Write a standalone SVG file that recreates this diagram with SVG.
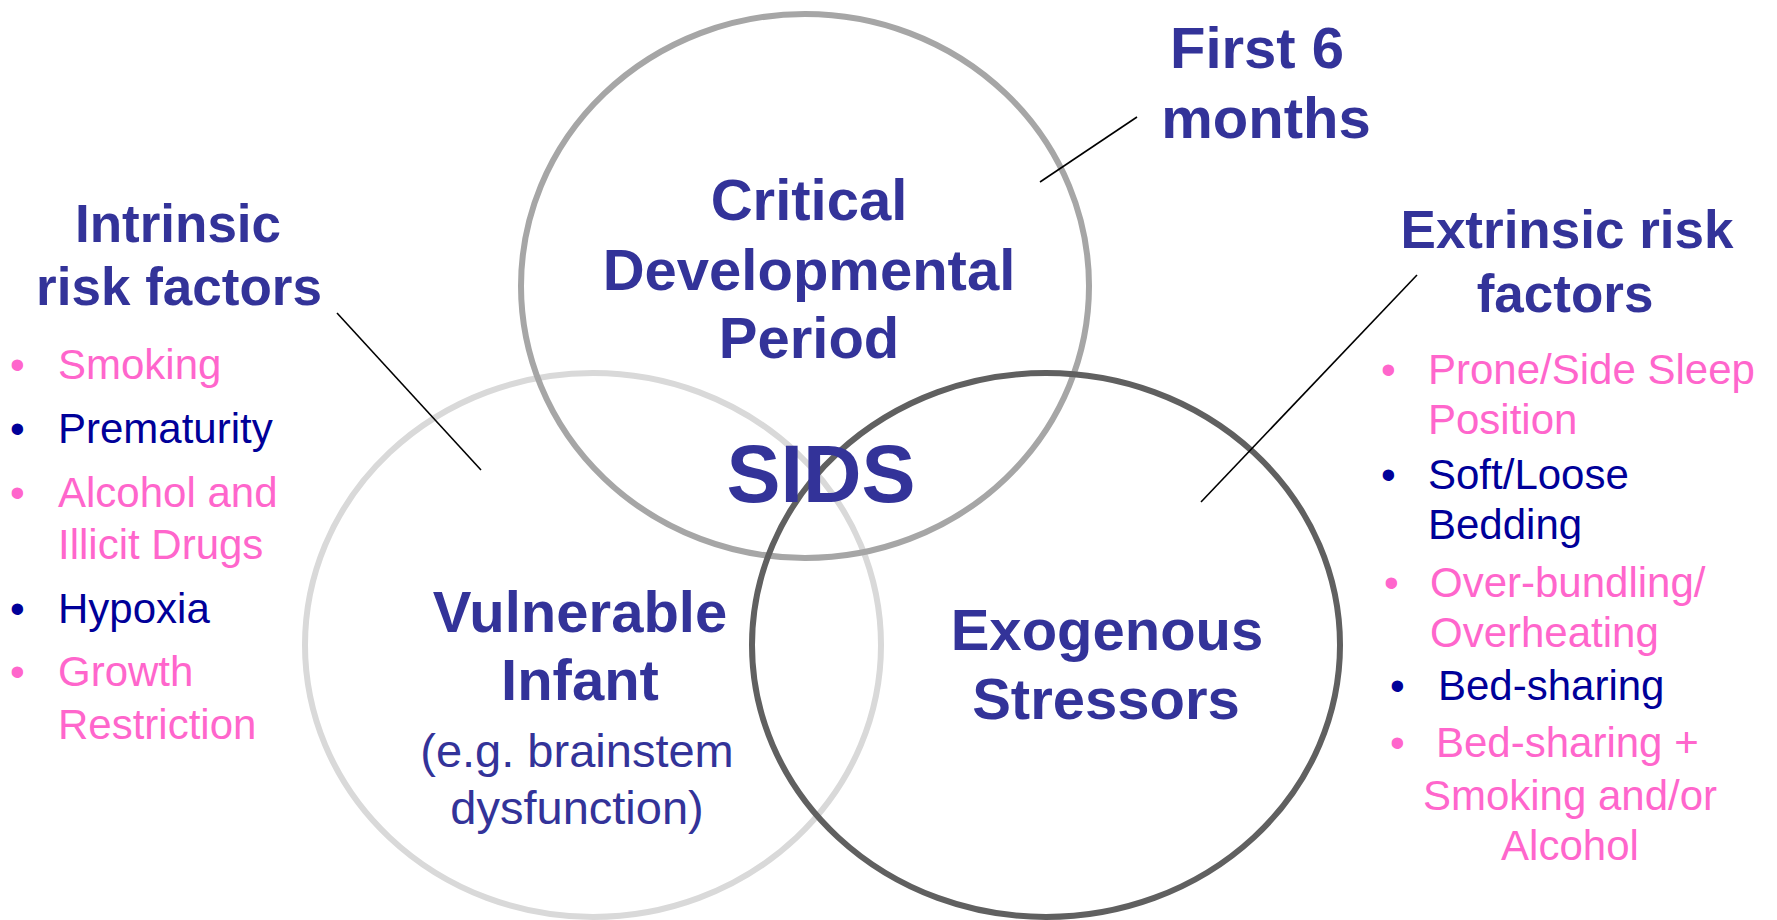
<svg xmlns="http://www.w3.org/2000/svg" width="1777" height="920" viewBox="0 0 1777 920">
  <style>
    text { font-family: "Liberation Sans", Arial, sans-serif; }
    .ring { fill: none; stroke-width: 6; }
    .title { fill: #333399; font-weight: bold; font-size: 58px; text-anchor: middle; }
    .head { fill: #333399; font-weight: bold; font-size: 53px; text-anchor: middle; }
    .sub { fill: #333399; font-size: 47px; text-anchor: middle; }
    .pink { fill: #ff66cc; font-size: 42px; }
    .navy { fill: #000099; font-size: 42px; }
    .conn { stroke: #000000; stroke-width: 1.6; fill: none; }
  </style>
  <rect width="1777" height="920" fill="#ffffff"/>

  <g id="vulnerable-infant">
    <ellipse class="ring" cx="593" cy="645" rx="288" ry="272" stroke="#d9d9d9"/>
    <text class="title" x="580" y="632">Vulnerable</text>
    <text class="title" x="580" y="700">Infant</text>
    <text class="sub" x="577" y="767">(e.g. brainstem</text>
    <text class="sub" x="577" y="824">dysfunction)</text>
  </g>

  <g id="critical-period">
    <ellipse class="ring" cx="805" cy="286" rx="284" ry="272" stroke="#a6a6a6"/>
    <text class="title" x="809" y="220">Critical</text>
    <text class="title" x="809" y="290">Developmental</text>
    <text class="title" x="809" y="358">Period</text>
  </g>

  <g id="exogenous-stressors">
    <ellipse class="ring" cx="1046" cy="645" rx="294" ry="272" stroke="#606060"/>
    <text class="title" x="1107" y="650">Exogenous</text>
    <text class="title" x="1106" y="719">Stressors</text>
  </g>

  <g id="sids">
    <text x="821" y="502" fill="#333399" font-weight="bold" font-size="81" text-anchor="middle">SIDS</text>
  </g>

  <g id="first-6-months">
    <text class="title" x="1257" y="68">First 6</text>
    <text class="title" x="1266" y="138">months</text>
  </g>

  <g id="intrinsic-risk-factors">
    <text class="head" x="178" y="242">Intrinsic</text>
    <text class="head" x="179" y="305">risk factors</text>
    <text class="pink" x="10" y="379">•</text><text class="pink" x="58" y="379">Smoking</text>
    <text class="navy" x="10" y="443">•</text><text class="navy" x="58" y="443">Prematurity</text>
    <text class="pink" x="10" y="507">•</text><text class="pink" x="58" y="507">Alcohol and</text>
    <text class="pink" x="58" y="559">Illicit Drugs</text>
    <text class="navy" x="10" y="623">•</text><text class="navy" x="58" y="623">Hypoxia</text>
    <text class="pink" x="10" y="686">•</text><text class="pink" x="58" y="686">Growth</text>
    <text class="pink" x="58" y="739">Restriction</text>
  </g>

  <g id="extrinsic-risk-factors">
    <text class="head" x="1567" y="248">Extrinsic risk</text>
    <text class="head" x="1565" y="312">factors</text>
    <text class="pink" x="1381" y="384">•</text><text class="pink" x="1428" y="384">Prone/Side Sleep</text>
    <text class="pink" x="1428" y="434">Position</text>
    <text class="navy" x="1381" y="489">•</text><text class="navy" x="1428" y="489">Soft/Loose</text>
    <text class="navy" x="1428" y="539">Bedding</text>
    <text class="pink" x="1384" y="597">•</text><text class="pink" x="1430" y="597">Over-bundling/</text>
    <text class="pink" x="1430" y="647">Overheating</text>
    <text class="navy" x="1390" y="700">•</text><text class="navy" x="1438" y="700">Bed-sharing</text>
    <text class="pink" x="1390" y="757">•</text><text class="pink" x="1436" y="757">Bed-sharing +</text>
    <text class="pink" x="1570" y="810" text-anchor="middle">Smoking and/or</text>
    <text class="pink" x="1570" y="860" text-anchor="middle">Alcohol</text>
  </g>

  <g id="connectors">
    <line class="conn" x1="1040" y1="182" x2="1137" y2="117"/>
    <line class="conn" x1="337" y1="313" x2="481" y2="470"/>
    <line class="conn" x1="1417" y1="275" x2="1201" y2="502"/>
  </g>
</svg>
